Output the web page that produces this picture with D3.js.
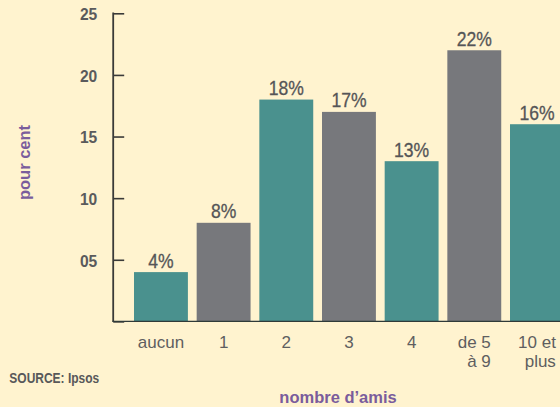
<!DOCTYPE html>
<html>
<head>
<meta charset="utf-8">
<script src="https://cdn.jsdelivr.net/npm/d3@7"></script>
<style>
  html, body { margin: 0; padding: 0; background: #fff3cf; }
  svg { display: block; }
  text { font-family: 'Liberation Sans', Arial, sans-serif; }
</style>
</head>
<body>
<svg id="chart" width="560" height="407"></svg>
<script>
const categories = ["aucun", "1", "2", "3", "4", "de 5\nà 9", "10 et\nplus"];
const values = [4, 8, 18, 17, 13, 22, 16];
const valueLabels = ["4%", "8%", "18%", "17%", "13%", "22%", "16%"];
const yTicks = [0, 5, 10, 15, 20, 25];
const yTickLabels = ["", "05", "10", "15", "20", "25"];
const barColors = ["#4a918e", "#77787c"];

const svg = d3.select("#chart");
const W = 560, H = 407;
svg.append("rect").attr("width", W).attr("height", H).attr("fill", "#fff3cf");

const axisX = 113.2;
const y = d3.scaleLinear().domain([0, 25]).range([321.4, 13.3]);
const x = d3.scaleBand().domain(categories)
  .range([125, 572.9]).paddingInner(0.14).paddingOuter(0.1436);

// bars
svg.append("g").selectAll("rect").data(values).join("rect")
  .attr("x", (d, i) => x(categories[i]))
  .attr("y", d => y(d))
  .attr("width", x.bandwidth())
  .attr("height", d => y(0) - y(d))
  .attr("fill", (d, i) => barColors[i % 2]);

// value labels (condensed look via horizontal scale)
svg.append("g").selectAll("text").data(values).join("text")
  .attr("transform", (d, i) => `translate(${x(categories[i]) + x.bandwidth() / 2},${y(d) - 4.6}) scale(0.9,1)`)
  .attr("text-anchor", "middle")
  .attr("font-size", 19.5)
  .attr("fill", "#555557")
  .attr("stroke", "#555557")
  .attr("stroke-width", 0.3)
  .text((d, i) => valueLabels[i]);

// y axis
const yAxis = d3.axisRight(y).tickValues(yTicks).tickSize(11).tickFormat("");
const gy = svg.append("g").attr("transform", `translate(${axisX},0)`).call(yAxis);
gy.select(".domain").remove();
gy.selectAll(".tick line").attr("stroke", "#3a3a38").attr("stroke-width", 1.6);
svg.append("line").attr("x1", axisX).attr("x2", axisX).attr("y1", y(25) - 0.8).attr("y2", y(0))
  .attr("stroke", "#3a3a38").attr("stroke-width", 1.8);

svg.append("g").selectAll("text").data(yTicks).join("text")
  .attr("x", 97.3)
  .attr("y", d => y(d) + 6.8)
  .attr("text-anchor", "end")
  .attr("font-size", 15.6)
  .attr("font-weight", "bold")
  .attr("fill", "#5a5a5c")
  .text((d, i) => yTickLabels[i]);

// x baseline
svg.append("line").attr("x1", axisX - 0.9).attr("x2", W).attr("y1", y(0)).attr("y2", y(0))
  .attr("stroke", "#2f3a38").attr("stroke-width", 1.4);

// x labels
const xl = svg.append("g");
categories.forEach((c, i) => {
  const lines = c.split("\n");
  const cx = x(c) + x.bandwidth() / 2;
  const t = xl.append("text")
    .attr("font-size", 17)
    .attr("fill", "#5e5e60")
    .attr("x", cx).attr("y", 348.3).attr("text-anchor", "middle").text(lines[0]);
  if (lines.length > 1) {
    const w = t.node().getComputedTextLength();
    xl.append("text")
      .attr("font-size", 17)
      .attr("fill", "#5e5e60")
      .attr("x", cx + w / 2).attr("y", 366.5).attr("text-anchor", "end")
      .text(lines[1]);
  }
});

// axis titles
svg.append("text")
  .attr("transform", "translate(29.5,162.5) rotate(-90)")
  .attr("text-anchor", "middle")
  .attr("font-size", 16.5)
  .attr("font-weight", "bold")
  .attr("fill", "#7a5c9c")
  .text("pour cent");

svg.append("text")
  .attr("x", 338).attr("y", 402.5)
  .attr("text-anchor", "middle")
  .attr("font-size", 16.5)
  .attr("font-weight", "bold")
  .attr("fill", "#7a5c9c")
  .text("nombre d’amis");

svg.append("text")
  .attr("transform", "translate(9.3,382.7) scale(0.8,1)")
  .attr("font-size", 15)
  .attr("font-weight", "bold")
  .attr("fill", "#58585a")
  .text("SOURCE: Ipsos");
</script>
</body>
</html>
